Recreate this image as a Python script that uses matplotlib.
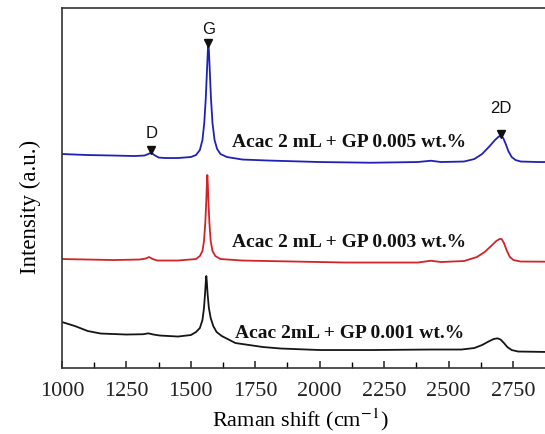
import matplotlib
matplotlib.use("Agg")
import matplotlib.pyplot as plt
from matplotlib.ticker import MultipleLocator

# Raman spectra (intensity in arbitrary units, already vertically offset)
wn_005 = [1000, 1100, 1200, 1280, 1320, 1335, 1346, 1358, 1375, 1400, 1450, 1500,
          1520, 1535, 1545, 1552, 1558, 1563, 1566, 1568, 1570, 1573, 1578, 1584,
          1592, 1602, 1615, 1640, 1700, 1800, 2000, 2200, 2380, 2432, 2470, 2560,
          2600, 2630, 2660, 2680, 2695, 2704, 2712, 2722, 2732, 2745, 2760, 2780,
          2850, 2900]
int_005 = [214, 213, 212.5, 212, 212.5, 214, 215.3, 213, 210.5, 210, 210, 211,
           213, 218, 228, 245, 270, 300, 318, 323, 318, 300, 270, 245,
           228, 219, 214, 211, 208.5, 207.5, 206, 205.3, 206, 207.3, 206, 206.5,
           209, 214, 222, 228, 231.5, 232, 230, 224, 217, 211, 208, 206.5,
           206, 206]

wn_003 = [1000, 1100, 1200, 1300, 1325, 1338, 1352, 1370, 1450, 1520, 1535, 1545,
          1551, 1556, 1560, 1562, 1564, 1566, 1568, 1572, 1577, 1584, 1595, 1615,
          1700, 1900, 2100, 2380, 2432, 2470, 2560, 2610, 2640, 2665, 2685, 2698,
          2706, 2715, 2725, 2738, 2752, 2780, 2900]
int_003 = [109, 108.5, 108, 108.5, 109.5, 111, 109, 107.5, 107.5, 109, 112, 117,
           127, 145, 168, 183, 193, 183, 168, 145, 127, 117, 112, 109,
           107.5, 106.5, 105.5, 105.5, 107.3, 106, 107, 111, 116, 122, 127, 129,
           129, 125, 118, 111, 108, 106.5, 106.3]

wn_001 = [1000, 1050, 1100, 1150, 1250, 1315, 1335, 1355, 1380, 1450, 1500, 1520,
          1535, 1545, 1551, 1555, 1558, 1560, 1562, 1565, 1570, 1577, 1587, 1600,
          1620, 1673, 1780, 1850, 2000, 2200, 2430, 2550, 2600, 2630, 2655, 2675,
          2690, 2702, 2715, 2728, 2745, 2770, 2900]
int_001 = [46, 42, 37, 34.5, 33.5, 33.8, 34.7, 33.5, 32.5, 31.5, 33, 36,
           40, 48, 60, 74, 86, 92, 86, 74, 60, 50, 42, 36,
           32, 25, 21, 19.5, 18, 18, 18.5, 18.5, 20, 23, 26.5, 29,
           29.7, 28.5, 25, 21, 18, 16.5, 16]

series_labels = ["Acac 2 mL + GP 0.005 wt.%",
                 "Acac 2 mL + GP 0.003 wt.%",
                 "Acac 2mL + GP 0.001 wt.%"]
series_colors = ["#2121b5", "#d2232a", "#151515"]

# Band positions marked on the top spectrum
band_names = ["D", "G", "2D"]
band_wn = [1346, 1568, 2704]
band_label_offset = [13.5, 11.5, 20]  # points above the band maximum

plt.rcParams["font.family"] = ["Liberation Serif", "DejaVu Serif"]
plt.rcParams["mathtext.fontset"] = "stix"

fig = plt.figure(figsize=(5.45, 4.34), dpi=100)
ax = fig.add_axes([62 / 545, 0.152, 483 / 545, 0.8295])

for wn, inten, col in zip([wn_005, wn_003, wn_001], [int_005, int_003, int_001], series_colors):
    ax.plot(wn, inten, color=col, lw=1.3, solid_joinstyle="round")

# Series labels
label_pos = [(1661, 221), (1661, 121), (1672, 30)]
for (x, y), txt in zip(label_pos, series_labels):
    ax.text(x, y, txt, fontsize=14, fontweight="bold", va="baseline", ha="left",
            color="#111111")

# Band markers and labels
for name, w, off in zip(band_names, band_wn, band_label_offset):
    peak = int_005[wn_005.index(w)]
    ax.plot([w], [peak + 2.5], marker="v", color="#111111", markersize=6, ls="none")
    ax.annotate(name, xy=(w, peak), xytext=(0, off), textcoords="offset points",
                ha="center", va="center", fontsize=12, family="Liberation Sans",
                color="#111111")

ax.set_xlim(1000, 1000 + 483 / 0.2577)
ax.set_ylim(0, 360)
ax.set_xticks([1000, 1250, 1500, 1750, 2000, 2250, 2500, 2750])
ax.xaxis.set_minor_locator(MultipleLocator(125))
ax.tick_params(axis="x", which="major", direction="in", length=5, width=1.1,
               labelsize=16, pad=10, colors="#222222")
ax.tick_params(axis="x", which="minor", direction="in", length=4, width=1.0)
ax.set_yticks([])
for s in ax.spines.values():
    s.set_linewidth(1.2)
    s.set_color("#333333")
ax.spines["right"].set_visible(False)

ax.set_xlabel("Raman shift (cm$^{-1}$)", fontsize=16)
ax.xaxis.label.set_va("baseline")
ax.xaxis.set_label_coords((300 - 62) / 483, (368 - 426) / 360)
ax.set_ylabel("Intensity (a.u.)", fontsize=16.5)
ax.yaxis.set_label_coords((41 - 62) / 483, (368 - 207) / 360)

fig.savefig("out.png", dpi=100)
